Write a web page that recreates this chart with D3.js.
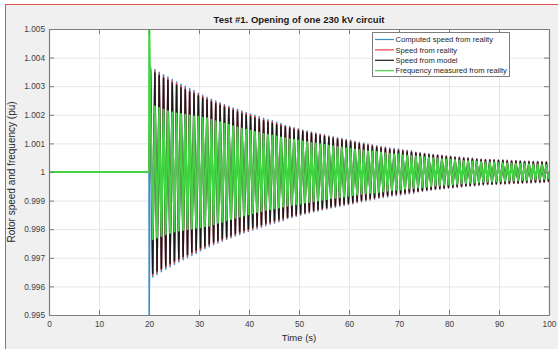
<!DOCTYPE html>
<html>
<head>
<meta charset="utf-8">
<script src="https://cdn.jsdelivr.net/npm/d3@7"></script>
<style>
  body { margin: 0; background: #fff; }
  svg { display: block; font-family: "Liberation Sans", Arial, sans-serif; }
</style>
</head>
<body>
<script>
// Time of each upper swing and each lower swing after the circuit opens (s)
const peakTimes = [
  20.30,21.17,22.04,22.91,23.78,24.65,25.52,26.39,27.26,28.13,
  29.00,29.87,30.74,31.61,32.48,33.35,34.22,35.09,35.96,36.83,
  37.70,38.57,39.44,40.31,41.18,42.05,42.92,43.79,44.66,45.53,
  46.40,47.27,48.14,49.01,49.88,50.75,51.62,52.49,53.36,54.23,
  55.10,55.97,56.84,57.71,58.58,59.45,60.32,61.19,62.06,62.93,
  63.80,64.67,65.54,66.41,67.28,68.15,69.02,69.89,70.76,71.63,
  72.50,73.37,74.24,75.11,75.98,76.85,77.72,78.59,79.46,80.33,
  81.20,82.07,82.94,83.81,84.68,85.55,86.42,87.29,88.16,89.03,
  89.90,90.77,91.64,92.51,93.38,94.25,95.12,95.99,96.86,97.73,
  98.60,99.47
];
const troughTimes = [
  20.74,21.61,22.48,23.35,24.22,25.09,25.96,26.83,27.70,28.57,
  29.44,30.31,31.18,32.05,32.92,33.79,34.66,35.53,36.40,37.27,
  38.14,39.01,39.88,40.75,41.62,42.49,43.36,44.23,45.10,45.97,
  46.84,47.71,48.58,49.45,50.32,51.19,52.06,52.93,53.80,54.67,
  55.54,56.41,57.28,58.15,59.02,59.89,60.76,61.63,62.50,63.37,
  64.24,65.11,65.98,66.85,67.72,68.59,69.46,70.33,71.20,72.07,
  72.94,73.81,74.68,75.55,76.42,77.29,78.16,79.03,79.90,80.77,
  81.64,82.51,83.38,84.25,85.12,85.99,86.86,87.73,88.60,89.47,
  90.34,91.21,92.08,92.95,93.82,94.69,95.56,96.43,97.30,98.17,
  99.04,99.91
];

// Swing of each cycle around 1 pu, in units of 1e-5 pu
const computedSpeed = [
  367,358,349,340,332,323,315,307,300,292,
  285,275,268,261,254,248,242,236,230,224,
  219,213,208,203,198,193,188,183,179,174,
  170,163,159,155,151,147,143,140,136,133,
  130,126,123,120,117,114,111,107,104,101,
  98,95,92,89,87,84,82,80,78,76,
  74,69,67,65,63,61,60,58,56,55,
  53,52,50,49,48,46,45,44,44,43,
  42,42,41,40,40,39,38,38,37,37,
  36,36
];
const realitySpeed = [
  361,352,343,334,326,317,309,301,294,286,
  279,271,264,257,250,244,238,232,226,220,
  215,209,204,199,194,189,184,179,175,170,
  166,160,156,152,148,144,140,137,133,130,
  127,123,120,117,114,111,108,104,101,98,
  95,92,89,86,84,81,79,77,75,73,
  71,68,66,64,62,60,59,57,55,54,
  52,51,49,48,47,45,44,43,43,42,
  41,41,40,39,39,38,37,37,36,36,
  35,35
];
const modelSpeed = [
  355,346,337,328,320,311,303,295,288,280,
  273,266,259,252,245,239,233,227,221,215,
  210,204,199,194,189,184,179,174,170,165,
  161,157,153,149,145,141,137,134,130,127,
  124,120,117,114,111,108,105,101,98,95,
  92,89,86,83,81,78,76,74,72,70,
  68,66,64,62,60,58,57,55,53,52,
  50,49,47,46,45,43,42,41,41,40,
  39,39,38,37,37,36,35,35,34,34,
  33,33
];
const measuredFrequency = [
  235,229,224,218,213,208,205,203,200,198,
  195,193,190,188,183,178,174,169,165,160,
  156,152,148,144,140,137,133,130,127,124,
  121,118,115,113,110,107,105,102,100,97,
  95,92,90,88,86,83,81,79,77,75,
  73,72,70,68,66,64,62,61,59,57,
  56,54,53,51,50,48,47,45,44,43,
  42,40,39,38,37,36,35,34,33,33,
  32,31,30,30,29,28,28,27,26,26,
  25,25
];

// Steady state before the opening, and the first transient spike
const steadyTimes = [0, 20];
const steadyValue = 1;
const spikeTime = 20.03;
const computedSpike = 0.9945;
const frequencySpike = 1.0055;

const seriesNames = ["Computed speed from reality", "Speed from reality", "Speed from model", "Frequency measured from reality"];
const xTicks = [0, 10, 20, 30, 40, 50, 60, 70, 80, 90, 100];
const yTicks = [0.995, 0.996, 0.997, 0.998, 0.999, 1, 1.001, 1.002, 1.003, 1.004, 1.005];
const yTickLabels = ["0.995", "0.996", "0.997", "0.998", "0.999", "1", "1.001", "1.002", "1.003", "1.004", "1.005"];

// Line colours and widths (MATLAB-like)
const seriesColors = ["#3d8fcc", "#e8453c", "#1a1a1a", "#45d445"];
const seriesWidths = [1.5, 1.5, 1.5, 1.9];

// Turn the per-cycle swings into a line
function buildSeries(swing, spike) {
    const pts = steadyTimes.map(t => [t, steadyValue]);
    if (spike !== null) pts.push([spikeTime, spike]);
    swing.forEach((a, i) => {
        pts.push([peakTimes[i], steadyValue + a * 1e-5]);
        pts.push([troughTimes[i], steadyValue - a * 1e-5]);
    });
    return pts;
}

const series = [
    buildSeries(computedSpeed, computedSpike),
    buildSeries(realitySpeed, null),
    buildSeries(modelSpeed, null),
    buildSeries(measuredFrequency, frequencySpike)
];

const W = 558, H = 349;
const plotLeft = 49, plotRight = 549, plotTop = 29, plotBottom = 315;

const svg = d3.select("body").append("svg")
    .attr("width", W)
    .attr("height", H);

// Figure background with the red selection edge
svg.append("rect").attr("x", 5).attr("y", 4).attr("width", W - 5).attr("height", H - 4).attr("fill", "#f0f0f0");
svg.append("line").attr("x1", 5).attr("x2", W).attr("y1", 4.5).attr("y2", 4.5).attr("stroke", "#e0514f");
svg.append("line").attr("x1", 5.5).attr("x2", 5.5).attr("y1", 4).attr("y2", H).attr("stroke", "#e0514f");

const x = d3.scaleLinear().domain([0, 100]).range([plotLeft, plotRight]);
const y = d3.scaleLinear().domain([0.995, 1.005]).range([plotBottom, plotTop]);

// Axes background
svg.append("rect")
    .attr("x", plotLeft).attr("y", plotTop)
    .attr("width", plotRight - plotLeft).attr("height", plotBottom - plotTop)
    .attr("fill", "#fff");

// Grid
const gx = svg.append("g")
    .attr("transform", `translate(0,${plotBottom})`)
    .call(d3.axisBottom(x).tickValues(xTicks).tickSize(-(plotBottom - plotTop)).tickFormat(""));
const gy = svg.append("g")
    .attr("transform", `translate(${plotLeft},0)`)
    .call(d3.axisLeft(y).tickValues(yTicks).tickSize(-(plotRight - plotLeft)).tickFormat(""));
[gx, gy].forEach(g => {
    g.select(".domain").remove();
    g.selectAll("line").attr("stroke", "#e6e6e6").attr("stroke-width", 1);
});

// Clip the lines to the axes box
svg.append("clipPath").attr("id", "plotClip")
    .append("rect")
    .attr("x", plotLeft).attr("y", plotTop)
    .attr("width", plotRight - plotLeft).attr("height", plotBottom - plotTop);

const line = d3.line()
    .x(d => x(d[0]))
    .y(d => y(d[1]));

svg.append("g")
    .attr("clip-path", "url(#plotClip)")
    .selectAll("path")
    .data(series)
    .enter().append("path")
    .attr("d", line)
    .attr("fill", "none")
    .attr("stroke", (d, i) => seriesColors[i])
    .attr("stroke-width", (d, i) => seriesWidths[i])
    .attr("stroke-linejoin", "round");

// Axes with inward ticks on all four sides
const axisColor = "#7d7d7d";
const labelColor = "#404040";

const xAxis = svg.append("g")
    .attr("transform", `translate(0,${plotBottom})`)
    .call(d3.axisBottom(x).tickValues(xTicks).tickSizeInner(-5).tickSizeOuter(0).tickPadding(6));
const yAxis = svg.append("g")
    .attr("transform", `translate(${plotLeft},0)`)
    .call(d3.axisLeft(y).tickValues(yTicks).tickSizeInner(-5).tickSizeOuter(0).tickPadding(4)
        .tickFormat((d, i) => yTickLabels[i]));
const xTop = svg.append("g")
    .attr("transform", `translate(0,${plotTop})`)
    .call(d3.axisTop(x).tickValues(xTicks).tickSizeInner(-5).tickSizeOuter(0).tickFormat(""));
const yRight = svg.append("g")
    .attr("transform", `translate(${plotRight},0)`)
    .call(d3.axisRight(y).tickValues(yTicks).tickSizeInner(-5).tickSizeOuter(0).tickFormat(""));

[xAxis, yAxis, xTop, yRight].forEach(g => {
    g.select(".domain").attr("stroke", axisColor).attr("stroke-width", 1.2);
    g.selectAll(".tick line").attr("stroke", axisColor);
    g.selectAll("text")
        .attr("fill", labelColor)
        .style("font-size", "8.3px")
        .style("font-family", '"Liberation Sans", Arial, sans-serif');
});

// Title and axis labels
svg.append("text")
    .attr("x", (plotLeft + plotRight) / 2).attr("y", 23)
    .attr("text-anchor", "middle")
    .style("font-size", "9.5px").style("font-weight", "bold")
    .attr("fill", "#1a1a1a")
    .text("Test #1. Opening of one 230 kV circuit");

svg.append("text")
    .attr("x", (plotLeft + plotRight) / 2).attr("y", 341)
    .attr("text-anchor", "middle")
    .style("font-size", "9.5px")
    .attr("fill", "#262626")
    .text("Time (s)");

svg.append("text")
    .attr("transform", `translate(15,${(plotTop + plotBottom) / 2}) rotate(-90)`)
    .attr("text-anchor", "middle")
    .style("font-size", "10px")
    .attr("fill", "#262626")
    .text("Rotor speed and frequency (pu)");

// Legend
const legend = svg.append("g").attr("transform", "translate(372,32)");
legend.append("rect")
    .attr("x", 0.5).attr("y", 0.5)
    .attr("width", 137).attr("height", 44)
    .attr("fill", "#fff")
    .attr("stroke", "#7d7d7d");

const rows = legend.selectAll("g.row")
    .data(seriesNames)
    .enter().append("g")
    .attr("class", "row")
    .attr("transform", (d, i) => `translate(0,${7.5 + i * 10.4})`);
rows.append("line")
    .attr("x1", 3).attr("x2", 22)
    .attr("stroke", (d, i) => seriesColors[i])
    .attr("stroke-width", 1.2);
rows.append("text")
    .attr("x", 23.5).attr("dy", "0.35em")
    .style("font-size", "7.6px")
    .attr("fill", "#262626")
    .text(d => d);
</script>
</body>
</html>
